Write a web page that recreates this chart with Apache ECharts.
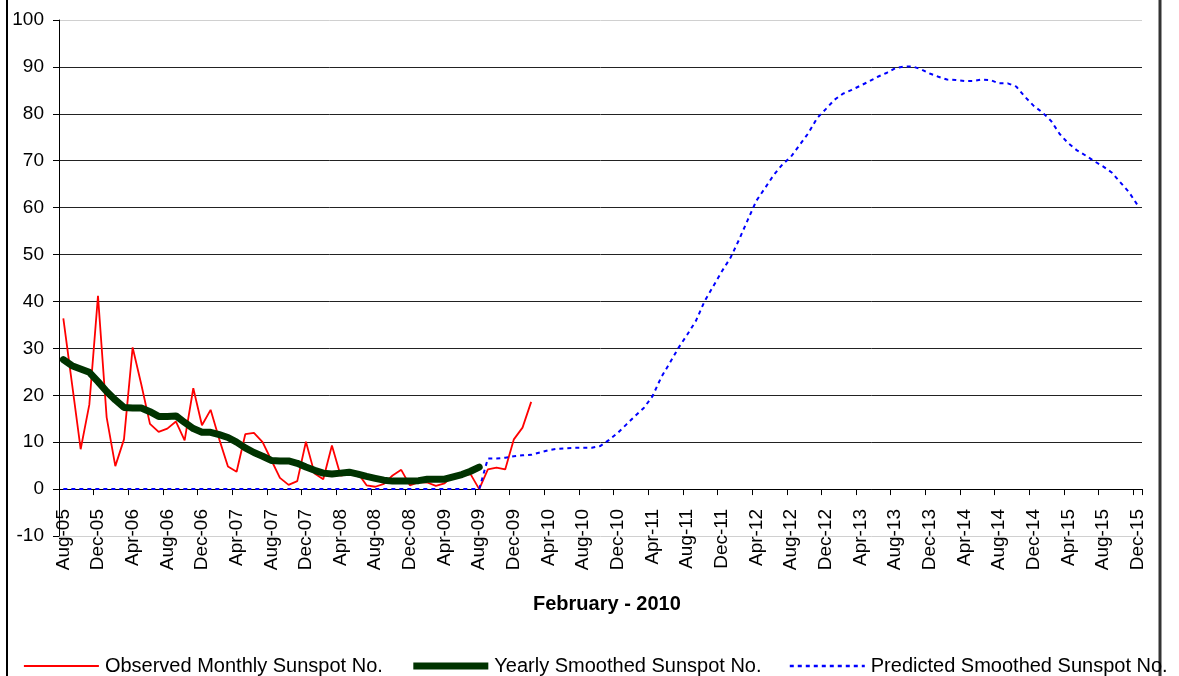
<!DOCTYPE html>
<html>
<head>
<meta charset="utf-8">
<script src="https://cdn.jsdelivr.net/npm/echarts@6/dist/echarts.min.js"></script>
<style>
html,body{margin:0;padding:0;background:#fff;}
#chart{width:1179px;height:676px;}
</style>
</head>
<body>
<div id="chart"></div>
<script>
// Categories: monthly, Aug-05 .. Dec-15
const monthNames = ['Jan','Feb','Mar','Apr','May','Jun','Jul','Aug','Sep','Oct','Nov','Dec'];
const startYear = 2005, startMonth = 7, monthCount = 125;
const categories = [];
for (let k = 0; k < monthCount; k++) {
  const m = (startMonth + k) % 12;
  const y = startYear + Math.floor((startMonth + k) / 12);
  categories.push(monthNames[m] + '-' + String(y % 100).padStart(2, '0'));
}

const observedMonthly = [
  36.4, 22.5, 8.5, 18.0, 41.2,
  15.3, 4.9, 10.6, 30.2, 22.3, 13.9, 12.2, 12.9, 14.4, 10.4, 21.5, 13.6,
  16.9, 10.6, 4.8, 3.7, 11.7, 12.0, 10.0, 6.2, 2.4, 0.9, 1.7, 10.1,
  3.3, 2.1, 9.3, 2.9, 3.2, 3.4, 0.8, 0.5, 1.1, 2.9, 4.1, 0.8,
  1.5, 1.4, 0.7, 1.2, 2.9, 2.9, 3.2, 0.0, 4.2, 4.6, 4.2, 10.6,
  13.1, 18.6
];

const yearlySmoothed = [
  27.6, 26.3, 25.6, 24.9, 22.9, 20.8, 19.0, 17.4, 17.3, 17.3,
  16.5, 15.5, 15.5, 15.6, 14.2, 12.9, 12.1, 12.1, 11.6, 11.0,
  10.0, 8.8, 7.8, 7.0, 6.1, 6.0, 6.0, 5.5, 4.7, 4.0,
  3.4, 3.2, 3.4, 3.6, 3.2, 2.7, 2.3, 1.9, 1.7, 1.7,
  1.7, 1.8, 2.1, 2.1, 2.1, 2.6, 3.1, 3.8, 4.7
];

const predictedSmoothed = [
  0, 0, 0, 0, 0, 0, 0, 0, 0, 0,
  0, 0, 0, 0, 0, 0, 0, 0, 0, 0,
  0, 0, 0, 0, 0, 0, 0, 0, 0, 0,
  0, 0, 0, 0, 0, 0, 0, 0, 0, 0,
  0, 0, 0, 0, 0, 0, 0, 0, 0,
  6.5, 6.5, 6.7, 7.0, 7.2, 7.3, 7.8, 8.3, 8.6, 8.7,
  8.8, 8.8, 8.8, 9.2, 10.5, 12.0, 13.8, 15.6, 17.3, 19.8,
  23.8, 26.9, 30.1, 32.9, 35.8, 40.0, 43.2, 46.4, 49.3, 53.2,
  57.4, 61.5, 64.2, 67.0, 69.2, 70.9, 73.4, 75.9, 79.1, 81.0,
  83.0, 84.3, 85.1, 86.0, 86.9, 87.9, 88.7, 89.7, 90.1, 90.1,
  89.5, 88.6, 87.9, 87.3, 87.2, 87.0, 87.0, 87.3, 87.2, 86.5,
  86.5, 85.8, 83.6, 81.7, 80.3, 78.5, 75.7, 73.7, 72.2, 71.1,
  69.9, 68.8, 67.5, 65.4, 63.3, 60.5
];

const seriesNames = ['Observed Monthly Sunspot No.', 'Yearly Smoothed Sunspot No.', 'Predicted Smoothed Sunspot No.'];
const xTitle = 'February - 2010';

const font = 'Arial, "Liberation Sans", sans-serif';
const gridColors = ['#d0d0d0','#222','#222','#222','#222','#222','#222','#222','#222','#222','#222','#d0d0d0'];

const chart = echarts.init(document.getElementById('chart'), null, {renderer: 'canvas'});
chart.setOption({
  animation: false,
  backgroundColor: '#ffffff',
  grid: {left: 59, right: 37, top: 20, bottom: 140, containLabel: false},
  xAxis: {
    type: 'category',
    data: categories,
    boundaryGap: true,
    axisLine: {onZero: true, lineStyle: {color: '#000', width: 1}},
    axisTick: {show: true, interval: 3, length: 6, lineStyle: {color: '#000'}},
    axisLabel: {interval: 3, rotate: 90, margin: -27, color: '#000', fontSize: 19, fontFamily: font},
    splitLine: {show: false}
  },
  yAxis: {
    type: 'value',
    min: -10, max: 100, interval: 10,
    axisLine: {show: true, lineStyle: {color: '#000', width: 1}},
    axisTick: {show: true, length: 6, lineStyle: {color: '#000'}},
    axisLabel: {margin: 15, color: '#000', fontSize: 19, fontFamily: font},
    splitLine: {show: true, lineStyle: {color: gridColors, width: 1}}
  },
  legend: {
    left: 23, top: 656, width: 1156, padding: 0,
    itemWidth: 75, itemHeight: 14, itemGap: 27,
    itemStyle: {opacity: 0},
    textStyle: {color: '#000', fontSize: 20, fontFamily: font, padding: [0,0,0,1]},
    data: [
      {name: seriesNames[0], lineStyle: {width: 1.8}},
      {name: seriesNames[1], lineStyle: {width: 7, cap: 'butt'}},
      {name: seriesNames[2], lineStyle: {width: 2.5}}
    ]
  },
  graphic: [
    {type: 'text', left: 610 - 77, top: 594, style: {text: xTitle, font: 'bold 20px ' + font, fill: '#000'}},
    {type: 'line', shape: {x1: 7, y1: 0, x2: 7, y2: 676}, style: {stroke: '#000', lineWidth: 2}},
    {type: 'line', shape: {x1: 1160, y1: 0, x2: 1160, y2: 676}, style: {stroke: '#333', lineWidth: 3}}
  ],
  series: [
    {
      name: seriesNames[0], type: 'line', data: observedMonthly,
      symbol: 'none', showSymbol: false, z: 2,
      lineStyle: {color: '#ff0000', width: 1.8}, itemStyle: {color: '#ff0000'}
    },
    {
      name: seriesNames[1], type: 'line', data: yearlySmoothed,
      symbol: 'none', showSymbol: false, z: 3,
      lineStyle: {color: '#003300', width: 7, cap: 'round', join: 'round'}, itemStyle: {color: '#003300'}
    },
    {
      name: seriesNames[2], type: 'line', data: predictedSmoothed,
      symbol: 'none', showSymbol: false, z: 4,
      lineStyle: {color: '#0000ff', width: 2, type: [4, 4]}, itemStyle: {color: '#0000ff'}
    }
  ]
});
</script>
</body>
</html>
